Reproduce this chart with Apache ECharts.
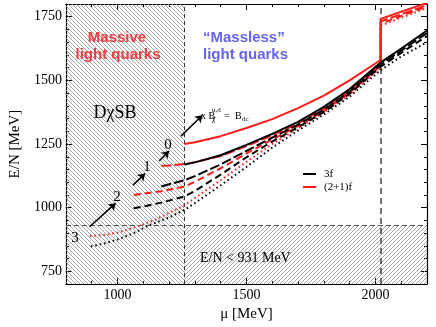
<!DOCTYPE html>
<html>
<head>
<meta charset="utf-8">
<script src="https://cdn.jsdelivr.net/npm/echarts@6/dist/echarts.min.js"></script>
<style>html,body{margin:0;padding:0;background:#fff}#main{width:436px;height:327px}</style>
</head>
<body>
<div id="main"></div>
<script>
var xLabels = [1000, 1500, 2000];
var yLabels = [750, 1000, 1250, 1500, 1750];

var muChiral = 1260;   // end of massive light quark region
var muJump = 2020;     // strange quark onset
var eBound = 931;      // E/N < 931 MeV

// x = 0, solid
var muB0 = [1260, 1300, 1400, 1500, 1600, 1700, 1800, 1900, 2020, 2100, 2200];
var eB0  = [1170, 1178, 1206, 1247, 1290, 1337, 1396, 1466, 1570, 1625, 1696];
var muR0 = [1260, 1300, 1400, 1500, 1600, 1700, 1800, 1900, 2020, 2020, 2100, 2200];
var eR0  = [1250, 1257, 1281, 1313, 1348, 1391, 1440, 1500, 1580, 1741, 1770, 1804];
// x = 1, long dash
var muB1 = [1170, 1200, 1260, 1300, 1400, 1500, 1600, 1700, 1800, 1900, 2020, 2100, 2200];
var eB1  = [1083, 1092, 1108, 1124, 1170, 1223, 1275, 1326, 1385, 1456, 1562, 1617, 1686];
var muR1 = [1170, 1200, 1260, 1300, 1400, 1500, 1600, 1700, 1800, 1900, 2020, 2020, 2100, 2200];
var eR1  = [1165, 1166, 1172, 1179, 1203, 1242, 1284, 1331, 1390, 1460, 1566, 1731, 1760, 1795];
// x = 2, dash
var muB2 = [1063, 1100, 1170, 1260, 1300, 1400, 1500, 1600, 1700, 1800, 1900, 2020, 2100, 2200];
var eB2  = [998, 1005, 1020, 1044, 1066, 1130, 1198, 1260, 1316, 1376, 1448, 1554, 1608, 1674];
var muR2 = [1063, 1100, 1170, 1260, 1300, 1400, 1500, 1600, 1700, 1800, 1900, 2020, 2020, 2100, 2200];
var eR2  = [1050, 1055, 1065, 1083, 1102, 1155, 1213, 1268, 1321, 1380, 1452, 1558, 1722, 1753, 1790];
// x = 3, dotted
var muB3 = [897, 950, 1000, 1063, 1120, 1200, 1260, 1300, 1400, 1500, 1600, 1700, 1800, 1900, 2020, 2100, 2200];
var eB3  = [848, 860, 875, 900, 930, 962, 992, 1018, 1088, 1160, 1236, 1303, 1366, 1436, 1540, 1594, 1650];
var muR3 = [893, 950, 1000, 1050, 1100, 1150, 1200, 1260, 1300, 1400, 1500, 1600, 1700, 1800, 1900, 2020, 2020, 2100, 2200];
var eR3  = [889, 893, 902, 917, 935, 955, 980, 1010, 1038, 1108, 1180, 1250, 1312, 1374, 1444, 1550, 1715, 1746, 1784];

var serif = '"Liberation Serif", "DejaVu Serif", serif';
var RED = '#ff1a1a';

function pairs(mu, e) {
    return mu.map(function (m, i) { return [m, e[i]]; });
}

function hatch(back) {
    var s = 4, c = document.createElement('canvas');
    c.width = s; c.height = s;
    var g = c.getContext('2d');
    g.strokeStyle = '#8e8e8e';
    g.lineWidth = 0.8;
    g.beginPath();
    if (back) {
        g.moveTo(0, 0); g.lineTo(s, s);
        g.moveTo(-1, s - 1); g.lineTo(1, s + 1);
        g.moveTo(s - 1, -1); g.lineTo(s + 1, 1);
    } else {
        g.moveTo(0, s); g.lineTo(s, 0);
        g.moveTo(-1, 1); g.lineTo(1, -1);
        g.moveTo(s - 1, s + 1); g.lineTo(s + 1, s - 1);
    }
    g.stroke();
    return { image: c, repeat: 'repeat' };
}

function curve(mu, e, color, dash) {
    return {
        type: 'line', data: pairs(mu, e), symbol: 'none', z: 5, silent: true,
        lineStyle: { color: color, width: 2, type: dash }
    };
}

function xAx(pos, major) {
    return {
        type: 'value', position: pos, min: 800, max: 2200, interval: 100,
        axisLine: { show: !major, onZero: false, lineStyle: { color: '#000', width: 1.2 } },
        axisTick: major ? { inside: true, length: 6, customValues: xLabels, lineStyle: { color: '#000' } }
                        : { inside: true, length: 3, lineStyle: { color: '#000' } },
        axisLabel: {
            show: pos === 'bottom' && !major, color: '#000', fontFamily: serif, fontSize: 14, margin: 4,
            formatter: function (v) { return xLabels.indexOf(v) >= 0 ? v : ''; }
        },
        splitLine: { show: false }
    };
}

function yAx(pos, major) {
    return {
        type: 'value', position: pos, min: 700, max: 1800, interval: 50,
        axisLine: { show: !major, onZero: false, lineStyle: { color: '#000', width: 1.2 } },
        axisTick: major ? { inside: true, length: 6, customValues: yLabels, lineStyle: { color: '#000' } }
                        : { inside: true, length: 3, lineStyle: { color: '#000' } },
        axisLabel: {
            show: pos === 'left' && !major, color: '#000', fontFamily: serif, fontSize: 14, margin: 4,
            formatter: function (v) { return yLabels.indexOf(v) >= 0 ? v : ''; }
        },
        splitLine: { show: false }
    };
}

var xAxes = [xAx('bottom', false), xAx('bottom', true), xAx('top', false), xAx('top', true)];
xAxes[0].name = 'μ [MeV]';
xAxes[0].nameLocation = 'middle';
xAxes[0].nameGap = 20;
xAxes[0].nameTextStyle = { fontFamily: serif, fontSize: 15, color: '#000' };
var yAxes = [yAx('left', false), yAx('left', true), yAx('right', false), yAx('right', true)];
yAxes[0].name = 'E/N [MeV]';
yAxes[0].nameLocation = 'middle';
yAxes[0].nameGap = 36;
yAxes[0].nameTextStyle = { fontFamily: serif, fontSize: 15, color: '#000' };

var helper = {
    type: 'line', data: [[800, 700]], symbol: 'none', z: 1, silent: true,
    lineStyle: { opacity: 0 },
    markArea: {
        silent: true,
        data: [
            [{ xAxis: 800, yAxis: 700, itemStyle: { color: hatch(true) } }, { xAxis: muChiral, yAxis: 1800 }],
            [{ xAxis: muChiral, yAxis: 700, itemStyle: { color: hatch(false) } }, { xAxis: 2200, yAxis: eBound }]
        ]
    },
    markLine: {
        silent: true, symbol: 'none', label: { show: false },
        data: [
            { xAxis: muChiral, lineStyle: { color: '#333', width: 1, type: [4, 3] } },
            { xAxis: muJump, lineStyle: { color: '#444', width: 1.5, type: [6, 4] } },
            { yAxis: eBound, lineStyle: { color: '#555', width: 1, type: [5, 3] } }
        ]
    }
};

var arrows = {
    type: 'line', data: [[800, 700]], symbol: 'none', z: 6, silent: true,
    lineStyle: { opacity: 0 },
    markLine: {
        silent: true, symbol: ['none', 'arrow'], symbolSize: 7, label: { show: false },
        lineStyle: { color: '#000', width: 1.5, type: 'solid' },
        data: [
            [{ coord: [892, 925] }, { coord: [993, 1018] }],
            [{ coord: [1060, 1088] }, { coord: [1107, 1134] }],
            [{ coord: [1162, 1184] }, { coord: [1200, 1223] }],
            [{ coord: [1246, 1281] }, { coord: [1329, 1363] }]
        ]
    }
};

function txt(x, y, s, font, fill, align) {
    return {
        type: 'text', x: x, y: y, z: 20,
        style: { text: s, font: font, fill: fill || '#000', align: align || 'left', verticalAlign: 'middle' }
    };
}

var bold = 'bold 15px "Liberation Sans", Arial, sans-serif';

var chart = echarts.init(document.getElementById('main'));
chart.setOption({
    animation: false,
    grid: { left: 57, right: 9, top: 4, bottom: 40 },
    xAxis: xAxes,
    yAxis: yAxes,
    series: [
        helper,
        curve(muR0, eR0, RED, 'solid'),
        curve(muR1, eR1, RED, [10, 3]),
        curve(muR2, eR2, RED, [7, 4]),
        curve(muR3, eR3, RED, [1.5, 3]),
        curve(muB0, eB0, '#000', 'solid'),
        curve(muB1, eB1, '#000', [10, 3]),
        curve(muB2, eB2, '#000', [7, 4]),
        curve(muB3, eB3, '#000', [1.5, 3]),
        arrows
    ],
    graphic: [
        txt(117, 38, 'Massive', bold, '#f23c3c', 'center'),
        txt(118, 55, 'light quarks', bold, '#f23c3c', 'center'),
        txt(203, 38, '\u201cMassless\u201d', bold, '#6464f0'),
        txt(203, 55, 'light quarks', bold, '#6464f0'),
        txt(115, 113, 'D\u03c7SB', '18px ' + serif, '#000', 'center'),
        txt(200, 258, 'E/N < 931 MeV', '14px ' + serif),
        txt(75, 238, '3', '15px ' + serif, '#000', 'center'),
        txt(117, 197, '2', '15px ' + serif, '#000', 'center'),
        txt(147, 167, '1', '15px ' + serif, '#000', 'center'),
        txt(168, 145, '0', '15px ' + serif, '#000', 'center'),
        txt(201, 116, 'x B', '10px ' + serif),
        txt(212, 110, 'u,d', '7px ' + serif),
        txt(212, 119, '\u03c7', '8px ' + serif),
        txt(224, 116, '=', '10px ' + serif),
        txt(235, 116, 'B', '10px ' + serif),
        txt(242, 119, 'dc', '7px ' + serif),
        { type: 'line', z: 20, shape: { x1: 303, y1: 174, x2: 316, y2: 174 }, style: { stroke: '#000', lineWidth: 2 } },
        { type: 'line', z: 20, shape: { x1: 303, y1: 187, x2: 316, y2: 187 }, style: { stroke: RED, lineWidth: 2 } },
        txt(324, 174, '3f', '11px ' + serif),
        txt(324, 187, '(2+1)f', '11px ' + serif)
    ]
});
</script>
</body>
</html>
